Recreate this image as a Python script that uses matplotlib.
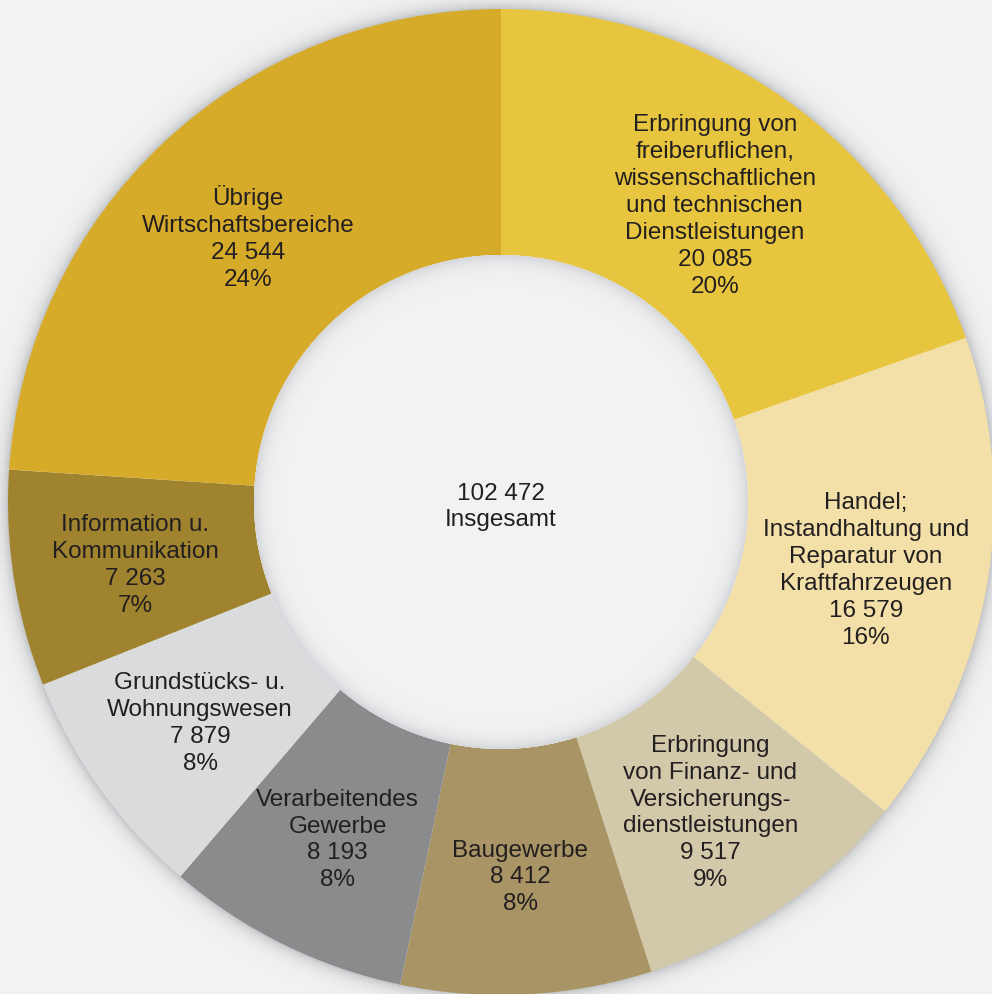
import numpy as np
import matplotlib.pyplot as plt
from matplotlib.colors import to_rgb
from matplotlib.patches import Circle, Wedge

plt.rcParams['font.family'] = ['Liberation Sans', 'DejaVu Sans']

# data, clockwise from 12 o'clock
labels = [
    "Erbringung von\nfreiberuflichen,\nwissenschaftlichen\nund technischen\nDienstleistungen",
    "Handel;\nInstandhaltung und\nReparatur von\nKraftfahrzeugen",
    "Erbringung\nvon Finanz- und\nVersicherungs-\ndienstleistungen",
    "Baugewerbe",
    "Verarbeitendes\nGewerbe",
    "Grundstücks- u.\nWohnungswesen",
    "Information u.\nKommunikation",
    "Übrige\nWirtschaftsbereiche",
]
values = [20085, 16579, 9517, 8412, 8193, 7879, 7263, 24544]
colors = ["#e8c53e", "#f3e0a8", "#d2c8aa", "#a89464",
          "#8a8b8d", "#dadbdc", "#a0832f", "#d6ab2a"]
total_label = "Insgesamt"

bg = "#f2f2f2"
txt = "#231f20"


def fmt(n):
    return f"{n:,}".replace(",", " ")


def shade(edge, d, scale):
    # blend from edge colour to background with distance d
    a = np.exp(-d / scale)
    e, b = np.array(to_rgb(edge)), np.array(to_rgb(bg))
    return tuple(b + (e - b) * a)


fig = plt.figure(figsize=(9.92, 9.95), dpi=100)
fig.patch.set_facecolor(bg)
ax = fig.add_axes([0, 0, 1, 1])

cx, cy = 501, 492
r_out, r_in = 493, 247

# soft outer shadow
for d in np.arange(30, -1, -1.0):
    ax.add_patch(Wedge((cx, cy), r_out + d + 1, 0, 360, width=1.5,
                       facecolor=shade("#c4c6c9", d, 7), edgecolor="none", zorder=1))

wedges, _ = ax.pie(values, colors=colors, startangle=90, counterclock=False,
                   center=(cx, cy), radius=r_out, frame=True,
                   wedgeprops=dict(width=r_out - r_in, linewidth=0, zorder=2))
ax.set_xlim(0, 992)
ax.set_ylim(0, 995)
ax.set_aspect("equal")
ax.axis("off")

# inner hole with shading at the rim
ax.add_patch(Circle((cx, cy), r_in, facecolor=bg, edgecolor="none", zorder=3))
for d in np.arange(0, 40, 1.0):
    ax.add_patch(Wedge((cx, cy), r_in - d, 0, 360, width=1.5,
                       facecolor=shade("#d5d6d9", d, 8), edgecolor="none", zorder=3))

total = sum(values)
for w, lab, v in zip(wedges, labels, values):
    mid = np.deg2rad((w.theta1 + w.theta2) / 2)
    rr = (r_out + r_in) / 2
    x = cx + rr * np.cos(mid)
    y = cy + rr * np.sin(mid) - 5
    s = f"{lab}\n{fmt(v)}\n{round(v / total * 100)}%"
    ax.text(x, y, s, ha="center", va="center", fontsize=17.5, color=txt,
            linespacing=1.29, zorder=5)

ax.text(cx, cy - 4, f"{fmt(total)}\n{total_label}",
        ha="center", va="center", fontsize=17.5, color=txt, linespacing=1.29, zorder=5)

fig.savefig("out.png", dpi=100, facecolor=bg)
